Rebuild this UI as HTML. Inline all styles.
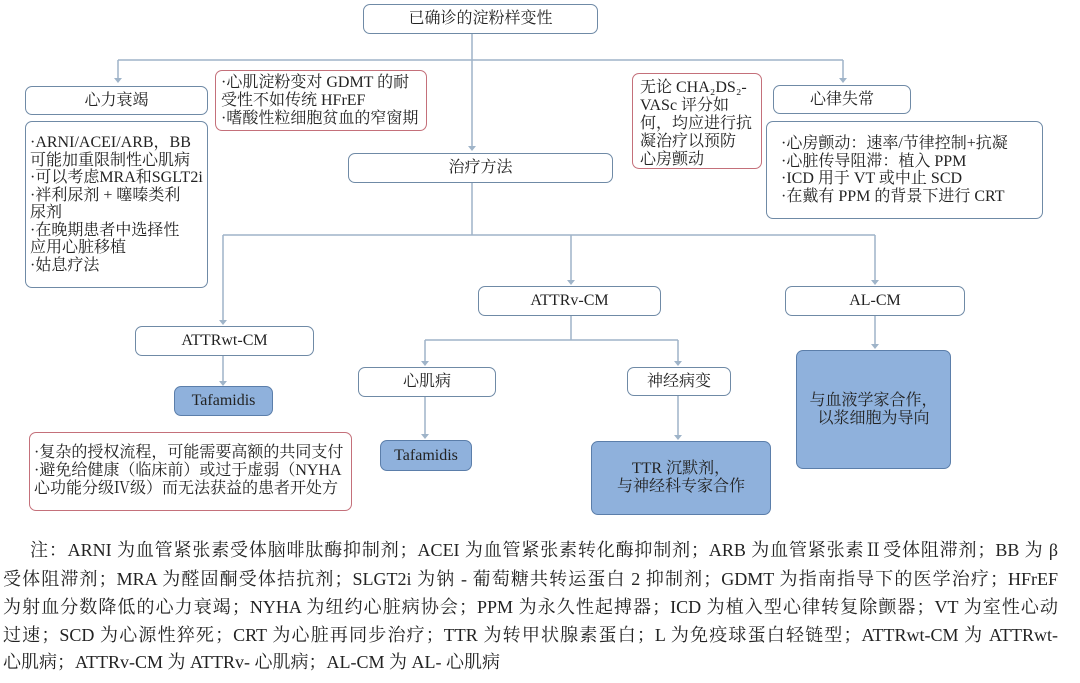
<!DOCTYPE html>
<html><head><meta charset="utf-8"><style>
body{margin:0;width:1080px;height:683px;background:#fff;position:relative;overflow:hidden;font-family:"Liberation Serif","Noto Serif CJK SC",serif;color:#222}
.b{position:absolute;box-sizing:border-box;border:1.5px solid #6f8aa6;border-radius:7px;background:#fff;display:flex;align-items:center;justify-content:center;font-size:16px;line-height:18px}
.r{border-color:#c4707a;justify-content:flex-start;align-items:flex-start;padding:3px 5px;font-size:16px;line-height:18px}
.f{background:#8fb1dc;border-color:#5b7eaa;text-align:center}
.t{justify-content:flex-start;align-items:flex-start;font-size:16px;line-height:17.5px}
.n{position:absolute;left:3px;width:1055px;font-size:18px;line-height:20px;text-align:justify;text-align-last:justify;white-space:nowrap;font-family:"Liberation Serif","Noto Serif CJK SC",serif}
</style></head><body>
<svg width="1080" height="683" style="position:absolute;left:0;top:0" stroke="#9fb4c9" stroke-width="1.5" fill="none">
<path d="M472 34V148M118 60H843M118 60V80M843 60V80M472 183V235M223 235H875M223 235V322M571 235V282M875 235V282M571 316V340M425 340H678M425 340V363M678 340V363M223 356V383M875 316V346M425 397V436M678 396V437"/>
<g fill="#9fb4c9" stroke="none">
<path d="M114 78h8l-4 5z"/><path d="M839 78h8l-4 5z"/><path d="M468 146h8l-4 5z"/><path d="M219 320h8l-4 5z"/><path d="M567 280h8l-4 5z"/><path d="M871 280h8l-4 5z"/><path d="M421 361h8l-4 5z"/><path d="M674 361h8l-4 5z"/><path d="M219 381h8l-4 5z"/><path d="M871 344h8l-4 5z"/><path d="M421 434h8l-4 5z"/><path d="M674 435h8l-4 5z"/>
</g></svg>
<div class="b" style="left:363px;top:4px;width:235px;height:30px">已确诊的淀粉样变性</div>
<div class="b" style="left:25px;top:86px;width:183px;height:29px">心力衰竭</div>
<div class="b t" style="left:25px;top:121px;width:183px;height:167px;padding:12px 4px">·ARNI/ACEI/ARB，BB<br>可能加重限制性心肌病<br>·可以考虑MRA和SGLT2i<br>·袢利尿剂 + 噻嗪类利<br>尿剂<br>·在晚期患者中选择性<br>应用心脏移植<br>·姑息疗法</div>
<div class="b r" style="left:215px;top:70px;width:212px;height:61px">·心肌淀粉变对 GDMT 的耐<br>受性不如传统 HFrEF<br>·嗜酸性粒细胞贫血的窄窗期</div>
<div class="b" style="left:348px;top:153px;width:265px;height:30px">治疗方法</div>
<div class="b r" style="left:632px;top:73px;width:130px;height:96px;padding:5px 7px">无论 CHA₂DS₂-<br>VASc 评分如<br>何，均应进行抗<br>凝治疗以预防<br>心房颤动</div>
<div class="b" style="left:773px;top:85px;width:138px;height:29px">心律失常</div>
<div class="b t" style="left:766px;top:121px;width:277px;height:98px;padding:13px 0 0 14px">·心房颤动：速率/节律控制+抗凝<br>·心脏传导阻滞：植入 PPM<br>·ICD 用于 VT 或中止 SCD<br>·在戴有 PPM 的背景下进行 CRT</div>
<div class="b" style="left:478px;top:286px;width:183px;height:30px">ATTRv-CM</div>
<div class="b" style="left:785px;top:286px;width:180px;height:30px">AL-CM</div>
<div class="b" style="left:135px;top:326px;width:179px;height:30px">ATTRwt-CM</div>
<div class="b f" style="left:174px;top:386px;width:99px;height:30px">Tafamidis</div>
<div class="b r" style="left:29px;top:432px;width:323px;height:79px;padding:11px 4px">·复杂的授权流程，可能需要高额的共同支付<br>·避免给健康（临床前）或过于虚弱（NYHA<br>心功能分级Ⅳ级）而无法获益的患者开处方</div>
<div class="b" style="left:358px;top:367px;width:138px;height:30px">心肌病</div>
<div class="b f" style="left:380px;top:440px;width:92px;height:31px">Tafamidis</div>
<div class="b" style="left:627px;top:367px;width:104px;height:29px">神经病变</div>
<div class="b f" style="left:591px;top:441px;width:180px;height:74px">TTR 沉默剂，<br>与神经科专家合作</div>
<div class="b f" style="left:796px;top:350px;width:155px;height:119px">与血液学家合作，<br>以浆细胞为导向</div>
<div class="n" style="top:540px;left:30px;width:1028px">注：ARNI 为血管紧张素受体脑啡肽酶抑制剂；ACEI 为血管紧张素转化酶抑制剂；ARB 为血管紧张素Ⅱ受体阻滞剂；BB 为 β</div>
<div class="n" style="top:569px">受体阻滞剂；MRA 为醛固酮受体拮抗剂；SLGT2i 为钠 - 葡萄糖共转运蛋白 2 抑制剂；GDMT 为指南指导下的医学治疗；HFrEF</div>
<div class="n" style="top:597px">为射血分数降低的心力衰竭；NYHA 为纽约心脏病协会；PPM 为永久性起搏器；ICD 为植入型心律转复除颤器；VT 为室性心动</div>
<div class="n" style="top:625px">过速；SCD 为心源性猝死；CRT 为心脏再同步治疗；TTR 为转甲状腺素蛋白；L 为免疫球蛋白轻链型；ATTRwt-CM 为 ATTRwt-</div>
<div class="n" style="top:652px;text-align-last:left;width:auto">心肌病；ATTRv-CM 为 ATTRv- 心肌病；AL-CM 为 AL- 心肌病</div>
</body></html>
